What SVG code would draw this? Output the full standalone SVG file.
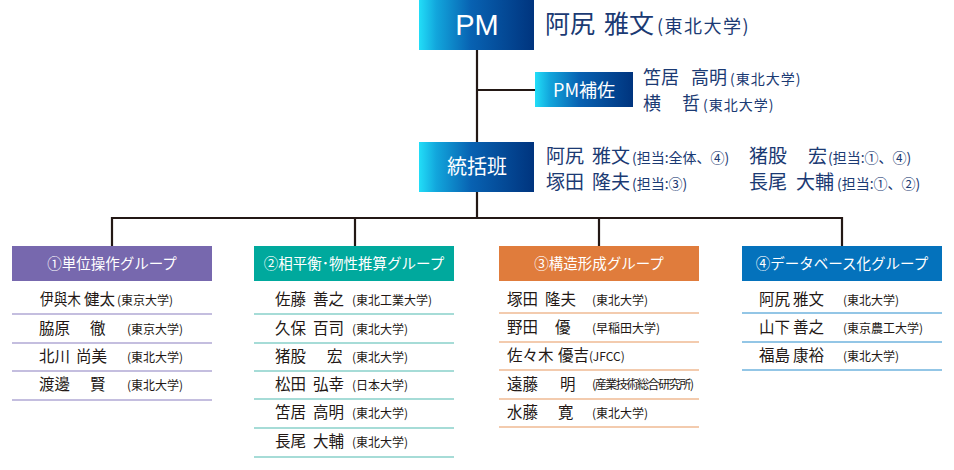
<svg xmlns="http://www.w3.org/2000/svg" width="954" height="470" viewBox="0 0 954 470">
<defs>
<linearGradient id="gb" x1="0" y1="0" x2="1" y2="0">
<stop offset="0" stop-color="#22def8"/>
<stop offset="0.15" stop-color="#12a6dc"/>
<stop offset="0.45" stop-color="#0862b2"/>
<stop offset="1" stop-color="#00347e"/>
</linearGradient>
<style>
text{font-family:"Noto Sans CJK JP","Noto Sans",sans-serif}
.conn{stroke:#231815;stroke-width:2.2;fill:none}
.wt{fill:#fff}
.top{fill:#1b3a73}
.nm{fill:#231815;font-size:15.5px}
.af{fill:#231815;font-size:12px}
.hd{fill:#fff;font-size:14.5px;text-anchor:middle}
.s1{stroke:#c4bedf;stroke-width:2}
.s2{stroke:#a6dcd7;stroke-width:2}
.s3{stroke:#f3cbae;stroke-width:2}
.s4{stroke:#93c6e6;stroke-width:2}
</style>
</defs>
<rect width="954" height="470" fill="#fff"/>
<g id="connectors">
<path class="conn" d="M477 50V218M477 90H535"/>
<path class="conn" d="M112 246V218H842V246M355 218V246M599 218V246"/>
</g>
<g id="pm">
<rect x="419" y="0" width="115" height="50" fill="url(#gb)"/>
<text class="wt" x="477" y="35" font-size="29" text-anchor="middle" style="font-family:'Liberation Sans',Arial,sans-serif">PM</text>
<text class="top" x="545" y="33" font-size="25">阿尻<tspan x="604">雅文</tspan><tspan x="657" font-size="18" letter-spacing="1.5">(東北大学)</tspan></text>
</g>
<g id="pm-assist">
<rect x="535" y="72" width="98" height="35" fill="url(#gb)"/>
<text class="wt" x="584" y="97" font-size="18" text-anchor="middle">PM補佐</text>
<text class="top" x="643" y="84" font-size="18">笘居<tspan x="691">高明</tspan><tspan x="730" font-size="14" letter-spacing="1">(東北大学)</tspan></text>
<text class="top" x="643" y="110" font-size="18">横<tspan x="682">哲</tspan><tspan x="703" font-size="14" letter-spacing="1">(東北大学)</tspan></text>
</g>
<g id="tokatsu">
<rect x="419" y="142" width="115" height="50" fill="url(#gb)"/>
<text class="wt" x="477" y="174" font-size="20" text-anchor="middle">統括班</text>
<text class="top" x="546" y="163" font-size="19">阿尻<tspan x="592">雅文</tspan><tspan x="632" font-size="14">(担当:全体、④)</tspan></text>
<text class="top" x="546" y="189" font-size="19">塚田<tspan x="592">隆夫</tspan><tspan x="632" font-size="14">(担当:③)</tspan></text>
<text class="top" x="749" y="163" font-size="19">猪股<tspan x="808">宏</tspan><tspan x="828" font-size="14">(担当:①、④)</tspan></text>
<text class="top" x="749" y="189" font-size="19">長尾<tspan x="796">大輔</tspan><tspan x="837" font-size="14">(担当:①、②)</tspan></text>
</g>
<g id="group1">
<rect x="12" y="246" width="200" height="35" fill="#7768ae"/>
<text class="hd" x="112" y="269">①単位操作グループ</text>
<text class="nm" x="40" y="305" textLength="41" lengthAdjust="spacingAndGlyphs">伊與木</text><text class="nm" x="84" y="305">健太</text><text class="af" x="117" y="305" font-size="11.5">(東京大学)</text>
<line class="s1" x1="12" y1="314" x2="212" y2="314"/>
<text class="nm" x="39" y="334">脇原<tspan x="90">徹</tspan></text><text class="af" x="127" y="334">(東京大学)</text>
<line class="s1" x1="12" y1="343" x2="212" y2="343"/>
<text class="nm" x="39" y="362">北川<tspan x="76">尚美</tspan></text><text class="af" x="127" y="362">(東北大学)</text>
<line class="s1" x1="12" y1="371" x2="212" y2="371"/>
<text class="nm" x="39" y="390">渡邊<tspan x="90">賢</tspan></text><text class="af" x="127" y="390">(東北大学)</text>
<line class="s1" x1="12" y1="400" x2="212" y2="400"/>
</g>
<g id="group2">
<rect x="254" y="246" width="200" height="35" fill="#00a99d"/>
<text class="hd" x="354" y="269">②相平衡･物性推算グループ</text>
<text class="nm" x="275" y="305">佐藤<tspan x="313">善之</tspan></text><text class="af" x="352" y="305">(東北工業大学)</text>
<line class="s2" x1="254" y1="314" x2="454" y2="314"/>
<text class="nm" x="275" y="334">久保<tspan x="313">百司</tspan></text><text class="af" x="352" y="334">(東北大学)</text>
<line class="s2" x1="254" y1="343" x2="454" y2="343"/>
<text class="nm" x="275" y="362">猪股<tspan x="327">宏</tspan></text><text class="af" x="352" y="362">(東北大学)</text>
<line class="s2" x1="254" y1="371" x2="454" y2="371"/>
<text class="nm" x="275" y="390">松田<tspan x="313">弘幸</tspan></text><text class="af" x="352" y="390">(日本大学)</text>
<line class="s2" x1="254" y1="399" x2="454" y2="399"/>
<text class="nm" x="275" y="418">笘居<tspan x="313">高明</tspan></text><text class="af" x="352" y="418">(東北大学)</text>
<line class="s2" x1="254" y1="428" x2="454" y2="428"/>
<text class="nm" x="275" y="447">長尾<tspan x="313">大輔</tspan></text><text class="af" x="352" y="447">(東北大学)</text>
<line class="s2" x1="254" y1="457" x2="454" y2="457"/>
</g>
<g id="group3">
<rect x="499" y="246" width="200" height="35" fill="#e07c3c"/>
<text class="hd" x="599" y="269">③構造形成グループ</text>
<text class="nm" x="507" y="305">塚田<tspan x="545">隆夫</tspan></text><text class="af" x="592" y="305">(東北大学)</text>
<line class="s3" x1="499" y1="313" x2="699" y2="313"/>
<text class="nm" x="507" y="333">野田<tspan x="555">優</tspan></text><text class="af" x="592" y="333">(早稲田大学)</text>
<line class="s3" x1="499" y1="342" x2="699" y2="342"/>
<text class="nm" x="507" y="361">佐々木<tspan x="558">優吉</tspan></text><text class="af" x="589" y="361">(JFCC)</text>
<line class="s3" x1="499" y1="370" x2="699" y2="370"/>
<text class="nm" x="507" y="390">遠藤<tspan x="560">明</tspan></text><text class="af" x="592" y="389" font-size="11" textLength="102">(産業技術総合研究所)</text>
<line class="s3" x1="499" y1="399" x2="699" y2="399"/>
<text class="nm" x="507" y="418">水藤<tspan x="558">寛</tspan></text><text class="af" x="592" y="418">(東北大学)</text>
<line class="s3" x1="499" y1="427" x2="699" y2="427"/>
</g>
<g id="group4">
<rect x="742" y="246" width="200" height="35" fill="#0472bc"/>
<text class="hd" x="842" y="269">④データベース化グループ</text>
<text class="nm" x="759" y="305">阿尻<tspan x="793">雅文</tspan></text><text class="af" x="843" y="305">(東北大学)</text>
<line class="s4" x1="742" y1="313" x2="942" y2="313"/>
<text class="nm" x="759" y="333">山下<tspan x="793">善之</tspan></text><text class="af" x="843" y="333">(東京農工大学)</text>
<line class="s4" x1="742" y1="342" x2="942" y2="342"/>
<text class="nm" x="759" y="361">福島<tspan x="793">康裕</tspan></text><text class="af" x="843" y="361">(東北大学)</text>
<line class="s4" x1="742" y1="370" x2="942" y2="370"/>
</g>
</svg>
